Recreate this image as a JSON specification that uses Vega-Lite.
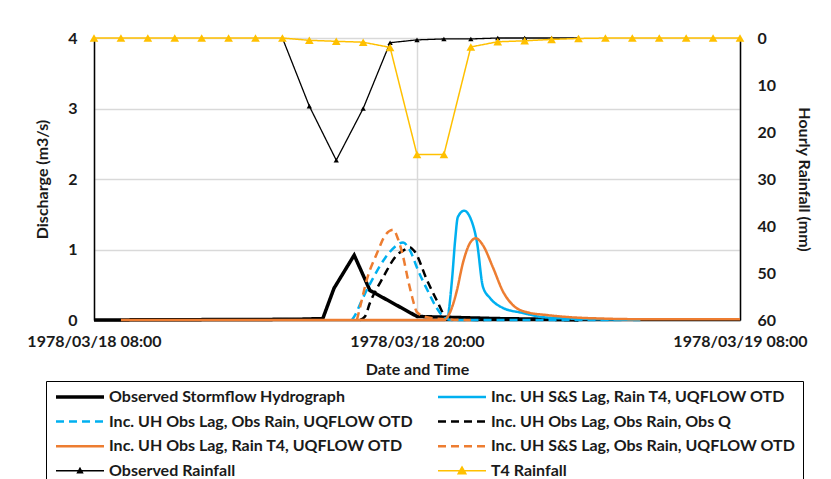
{
  "$schema": "https://vega.github.io/schema/vega-lite/v6.json",
  "width": 646,
  "height": 282,
  "autosize": "none",
  "padding": {"left": 94, "top": 38, "right": 91, "bottom": 159},
  "background": "white",
  "datasets": {
    "obs": [
      {"s": "Observed Stormflow Hydrograph", "t": "1978-03-18T08:00", "v": 0},
      {"s": "Observed Stormflow Hydrograph", "t": "1978-03-18T15:30", "v": 0.01},
      {"s": "Observed Stormflow Hydrograph", "t": "1978-03-18T16:30", "v": 0.02},
      {"s": "Observed Stormflow Hydrograph", "t": "1978-03-18T16:55", "v": 0.45},
      {"s": "Observed Stormflow Hydrograph", "t": "1978-03-18T17:40", "v": 0.92},
      {"s": "Observed Stormflow Hydrograph", "t": "1978-03-18T18:15", "v": 0.42},
      {"s": "Observed Stormflow Hydrograph", "t": "1978-03-18T20:00", "v": 0.05},
      {"s": "Observed Stormflow Hydrograph", "t": "1978-03-18T21:00", "v": 0.04},
      {"s": "Observed Stormflow Hydrograph", "t": "1978-03-18T22:00", "v": 0.03},
      {"s": "Observed Stormflow Hydrograph", "t": "1978-03-18T23:00", "v": 0.02},
      {"s": "Observed Stormflow Hydrograph", "t": "1978-03-19T00:00", "v": 0.015},
      {"s": "Observed Stormflow Hydrograph", "t": "1978-03-19T01:00", "v": 0.01},
      {"s": "Observed Stormflow Hydrograph", "t": "1978-03-19T02:00", "v": 0}
    ],
    "sim": [
      {"s": "Inc. UH Obs Lag, Obs Rain, Obs Q", "t": "1978-03-18T17:53", "v": 0},
      {"s": "Inc. UH Obs Lag, Obs Rain, Obs Q", "t": "1978-03-18T18:04", "v": 0.05},
      {"s": "Inc. UH Obs Lag, Obs Rain, Obs Q", "t": "1978-03-18T18:15", "v": 0.24},
      {"s": "Inc. UH Obs Lag, Obs Rain, Obs Q", "t": "1978-03-18T18:44", "v": 0.6},
      {"s": "Inc. UH Obs Lag, Obs Rain, Obs Q", "t": "1978-03-18T19:15", "v": 0.92},
      {"s": "Inc. UH Obs Lag, Obs Rain, Obs Q", "t": "1978-03-18T19:33", "v": 1.0},
      {"s": "Inc. UH Obs Lag, Obs Rain, Obs Q", "t": "1978-03-18T19:44", "v": 1.03},
      {"s": "Inc. UH Obs Lag, Obs Rain, Obs Q", "t": "1978-03-18T19:55", "v": 0.97},
      {"s": "Inc. UH Obs Lag, Obs Rain, Obs Q", "t": "1978-03-18T20:22", "v": 0.57},
      {"s": "Inc. UH Obs Lag, Obs Rain, Obs Q", "t": "1978-03-18T20:44", "v": 0.28},
      {"s": "Inc. UH Obs Lag, Obs Rain, Obs Q", "t": "1978-03-18T21:07", "v": 0.03},
      {"s": "Inc. UH Obs Lag, Obs Rain, Obs Q", "t": "1978-03-18T21:36", "v": 0.01},
      {"s": "Inc. UH Obs Lag, Obs Rain, Obs Q", "t": "1978-03-18T22:30", "v": 0},
      {"s": "Inc. UH Obs Lag, Obs Rain, UQFLOW OTD", "t": "1978-03-18T17:35", "v": 0},
      {"s": "Inc. UH Obs Lag, Obs Rain, UQFLOW OTD", "t": "1978-03-18T17:42", "v": 0.07},
      {"s": "Inc. UH Obs Lag, Obs Rain, UQFLOW OTD", "t": "1978-03-18T17:57", "v": 0.28},
      {"s": "Inc. UH Obs Lag, Obs Rain, UQFLOW OTD", "t": "1978-03-18T18:20", "v": 0.57},
      {"s": "Inc. UH Obs Lag, Obs Rain, UQFLOW OTD", "t": "1978-03-18T18:49", "v": 0.88},
      {"s": "Inc. UH Obs Lag, Obs Rain, UQFLOW OTD", "t": "1978-03-18T19:11", "v": 1.04},
      {"s": "Inc. UH Obs Lag, Obs Rain, UQFLOW OTD", "t": "1978-03-18T19:29", "v": 1.1},
      {"s": "Inc. UH Obs Lag, Obs Rain, UQFLOW OTD", "t": "1978-03-18T19:44", "v": 0.99},
      {"s": "Inc. UH Obs Lag, Obs Rain, UQFLOW OTD", "t": "1978-03-18T20:02", "v": 0.71},
      {"s": "Inc. UH Obs Lag, Obs Rain, UQFLOW OTD", "t": "1978-03-18T20:25", "v": 0.4},
      {"s": "Inc. UH Obs Lag, Obs Rain, UQFLOW OTD", "t": "1978-03-18T20:44", "v": 0.17},
      {"s": "Inc. UH Obs Lag, Obs Rain, UQFLOW OTD", "t": "1978-03-18T21:02", "v": 0.03},
      {"s": "Inc. UH Obs Lag, Obs Rain, UQFLOW OTD", "t": "1978-03-18T21:18", "v": 0},
      {"s": "Inc. UH Obs Lag, Obs Rain, UQFLOW OTD", "t": "1978-03-19T03:36", "v": 0},
      {"s": "Inc. UH S&S Lag, Obs Rain, UQFLOW OTD", "t": "1978-03-18T17:46", "v": 0},
      {"s": "Inc. UH S&S Lag, Obs Rain, UQFLOW OTD", "t": "1978-03-18T17:53", "v": 0.18},
      {"s": "Inc. UH S&S Lag, Obs Rain, UQFLOW OTD", "t": "1978-03-18T18:08", "v": 0.57},
      {"s": "Inc. UH S&S Lag, Obs Rain, UQFLOW OTD", "t": "1978-03-18T18:31", "v": 0.95},
      {"s": "Inc. UH S&S Lag, Obs Rain, UQFLOW OTD", "t": "1978-03-18T18:49", "v": 1.2},
      {"s": "Inc. UH S&S Lag, Obs Rain, UQFLOW OTD", "t": "1978-03-18T19:07", "v": 1.28},
      {"s": "Inc. UH S&S Lag, Obs Rain, UQFLOW OTD", "t": "1978-03-18T19:17", "v": 1.16},
      {"s": "Inc. UH S&S Lag, Obs Rain, UQFLOW OTD", "t": "1978-03-18T19:29", "v": 0.9},
      {"s": "Inc. UH S&S Lag, Obs Rain, UQFLOW OTD", "t": "1978-03-18T19:40", "v": 0.57},
      {"s": "Inc. UH S&S Lag, Obs Rain, UQFLOW OTD", "t": "1978-03-18T19:49", "v": 0.33},
      {"s": "Inc. UH S&S Lag, Obs Rain, UQFLOW OTD", "t": "1978-03-18T20:00", "v": 0.11},
      {"s": "Inc. UH S&S Lag, Obs Rain, UQFLOW OTD", "t": "1978-03-18T20:22", "v": 0.04},
      {"s": "Inc. UH S&S Lag, Obs Rain, UQFLOW OTD", "t": "1978-03-18T21:07", "v": 0.01},
      {"s": "Inc. UH S&S Lag, Obs Rain, UQFLOW OTD", "t": "1978-03-18T22:00", "v": 0},
      {"s": "Inc. UH S&S Lag, Rain T4, UQFLOW OTD", "t": "1978-03-18T21:00", "v": 0.02},
      {"s": "Inc. UH S&S Lag, Rain T4, UQFLOW OTD", "t": "1978-03-18T21:07", "v": 0.03},
      {"s": "Inc. UH S&S Lag, Rain T4, UQFLOW OTD", "t": "1978-03-18T21:18", "v": 0.57},
      {"s": "Inc. UH S&S Lag, Rain T4, UQFLOW OTD", "t": "1978-03-18T21:25", "v": 1.13},
      {"s": "Inc. UH S&S Lag, Rain T4, UQFLOW OTD", "t": "1978-03-18T21:31", "v": 1.46},
      {"s": "Inc. UH S&S Lag, Rain T4, UQFLOW OTD", "t": "1978-03-18T21:45", "v": 1.55},
      {"s": "Inc. UH S&S Lag, Rain T4, UQFLOW OTD", "t": "1978-03-18T21:58", "v": 1.46},
      {"s": "Inc. UH S&S Lag, Rain T4, UQFLOW OTD", "t": "1978-03-18T22:14", "v": 1.09},
      {"s": "Inc. UH S&S Lag, Rain T4, UQFLOW OTD", "t": "1978-03-18T22:27", "v": 0.47},
      {"s": "Inc. UH S&S Lag, Rain T4, UQFLOW OTD", "t": "1978-03-18T22:43", "v": 0.31},
      {"s": "Inc. UH S&S Lag, Rain T4, UQFLOW OTD", "t": "1978-03-18T23:12", "v": 0.17},
      {"s": "Inc. UH S&S Lag, Rain T4, UQFLOW OTD", "t": "1978-03-18T23:56", "v": 0.1},
      {"s": "Inc. UH S&S Lag, Rain T4, UQFLOW OTD", "t": "1978-03-19T00:41", "v": 0.04},
      {"s": "Inc. UH S&S Lag, Rain T4, UQFLOW OTD", "t": "1978-03-19T01:41", "v": 0.02},
      {"s": "Inc. UH S&S Lag, Rain T4, UQFLOW OTD", "t": "1978-03-19T02:55", "v": 0.01},
      {"s": "Inc. UH S&S Lag, Rain T4, UQFLOW OTD", "t": "1978-03-19T04:18", "v": 0},
      {"s": "Inc. UH Obs Lag, Rain T4, UQFLOW OTD", "t": "1978-03-18T09:00", "v": 0},
      {"s": "Inc. UH Obs Lag, Rain T4, UQFLOW OTD", "t": "1978-03-18T21:00", "v": 0},
      {"s": "Inc. UH Obs Lag, Rain T4, UQFLOW OTD", "t": "1978-03-18T21:13", "v": 0.1},
      {"s": "Inc. UH Obs Lag, Rain T4, UQFLOW OTD", "t": "1978-03-18T21:29", "v": 0.42},
      {"s": "Inc. UH Obs Lag, Rain T4, UQFLOW OTD", "t": "1978-03-18T21:42", "v": 0.8},
      {"s": "Inc. UH Obs Lag, Rain T4, UQFLOW OTD", "t": "1978-03-18T21:58", "v": 1.09},
      {"s": "Inc. UH Obs Lag, Rain T4, UQFLOW OTD", "t": "1978-03-18T22:11", "v": 1.16},
      {"s": "Inc. UH Obs Lag, Rain T4, UQFLOW OTD", "t": "1978-03-18T22:27", "v": 1.06},
      {"s": "Inc. UH Obs Lag, Rain T4, UQFLOW OTD", "t": "1978-03-18T22:49", "v": 0.75},
      {"s": "Inc. UH Obs Lag, Rain T4, UQFLOW OTD", "t": "1978-03-18T23:12", "v": 0.4},
      {"s": "Inc. UH Obs Lag, Rain T4, UQFLOW OTD", "t": "1978-03-18T23:34", "v": 0.21},
      {"s": "Inc. UH Obs Lag, Rain T4, UQFLOW OTD", "t": "1978-03-19T00:05", "v": 0.11},
      {"s": "Inc. UH Obs Lag, Rain T4, UQFLOW OTD", "t": "1978-03-19T00:50", "v": 0.07},
      {"s": "Inc. UH Obs Lag, Rain T4, UQFLOW OTD", "t": "1978-03-19T01:41", "v": 0.04},
      {"s": "Inc. UH Obs Lag, Rain T4, UQFLOW OTD", "t": "1978-03-19T02:55", "v": 0.02},
      {"s": "Inc. UH Obs Lag, Rain T4, UQFLOW OTD", "t": "1978-03-19T04:39", "v": 0.01},
      {"s": "Inc. UH Obs Lag, Rain T4, UQFLOW OTD", "t": "1978-03-19T08:00", "v": 0.01}
    ],
    "rainObs": [
      {"s": "Observed Rainfall", "t": "1978-03-18T15:00", "v": 0},
      {"s": "Observed Rainfall", "t": "1978-03-18T16:00", "v": 14.5},
      {"s": "Observed Rainfall", "t": "1978-03-18T17:00", "v": 26},
      {"s": "Observed Rainfall", "t": "1978-03-18T18:00", "v": 15},
      {"s": "Observed Rainfall", "t": "1978-03-18T19:00", "v": 1.0},
      {"s": "Observed Rainfall", "t": "1978-03-18T20:00", "v": 0.4},
      {"s": "Observed Rainfall", "t": "1978-03-18T21:00", "v": 0.2},
      {"s": "Observed Rainfall", "t": "1978-03-18T22:00", "v": 0.2},
      {"s": "Observed Rainfall", "t": "1978-03-18T23:00", "v": 0},
      {"s": "Observed Rainfall", "t": "1978-03-19T00:00", "v": 0},
      {"s": "Observed Rainfall", "t": "1978-03-19T01:00", "v": 0},
      {"s": "Observed Rainfall", "t": "1978-03-19T02:00", "v": 0}
    ],
    "rainT4": [
      {"s": "T4 Rainfall", "t": "1978-03-18T08:00", "v": 0},
      {"s": "T4 Rainfall", "t": "1978-03-18T09:00", "v": 0},
      {"s": "T4 Rainfall", "t": "1978-03-18T10:00", "v": 0},
      {"s": "T4 Rainfall", "t": "1978-03-18T11:00", "v": 0},
      {"s": "T4 Rainfall", "t": "1978-03-18T12:00", "v": 0},
      {"s": "T4 Rainfall", "t": "1978-03-18T13:00", "v": 0},
      {"s": "T4 Rainfall", "t": "1978-03-18T14:00", "v": 0},
      {"s": "T4 Rainfall", "t": "1978-03-18T15:00", "v": 0},
      {"s": "T4 Rainfall", "t": "1978-03-18T16:00", "v": 0.5},
      {"s": "T4 Rainfall", "t": "1978-03-18T17:00", "v": 0.7},
      {"s": "T4 Rainfall", "t": "1978-03-18T18:00", "v": 0.9},
      {"s": "T4 Rainfall", "t": "1978-03-18T19:00", "v": 2.0},
      {"s": "T4 Rainfall", "t": "1978-03-18T20:00", "v": 24.8},
      {"s": "T4 Rainfall", "t": "1978-03-18T21:00", "v": 24.8},
      {"s": "T4 Rainfall", "t": "1978-03-18T22:00", "v": 1.9},
      {"s": "T4 Rainfall", "t": "1978-03-18T23:00", "v": 0.8},
      {"s": "T4 Rainfall", "t": "1978-03-19T00:00", "v": 0.6},
      {"s": "T4 Rainfall", "t": "1978-03-19T01:00", "v": 0.3},
      {"s": "T4 Rainfall", "t": "1978-03-19T02:00", "v": 0.1},
      {"s": "T4 Rainfall", "t": "1978-03-19T03:00", "v": 0},
      {"s": "T4 Rainfall", "t": "1978-03-19T04:00", "v": 0},
      {"s": "T4 Rainfall", "t": "1978-03-19T05:00", "v": 0},
      {"s": "T4 Rainfall", "t": "1978-03-19T06:00", "v": 0},
      {"s": "T4 Rainfall", "t": "1978-03-19T07:00", "v": 0},
      {"s": "T4 Rainfall", "t": "1978-03-19T08:00", "v": 0}
    ]
  },
  "encoding": {
    "x": {
      "field": "t", "type": "temporal",
      "scale": {"domain": [{"year": 1978, "month": 3, "date": 18, "hours": 8}, {"year": 1978, "month": 3, "date": 19, "hours": 8}]},
      "axis": {
        "title": "Date and Time",
        "values": [{"year": 1978, "month": 3, "date": 18, "hours": 8}, {"year": 1978, "month": 3, "date": 18, "hours": 20}, {"year": 1978, "month": 3, "date": 19, "hours": 8}],
        "format": "%Y/%m/%d %H:%M",
        "labelOverlap": false, "labelFlush": false, "labelBound": false,
        "labelPadding": 13, "titlePadding": 12,
        "grid": true, "gridColor": "#d9d9d9", "gridWidth": 1.5,
        "domainColor": "#000000", "domainWidth": 1.5
      }
    },
    "color": {
      "field": "s", "type": "nominal",
      "scale": {
        "domain": ["Observed Stormflow Hydrograph", "Inc. UH Obs Lag, Obs Rain, UQFLOW OTD", "Inc. UH Obs Lag, Rain T4, UQFLOW OTD", "Observed Rainfall", "Inc. UH S&S Lag, Rain T4, UQFLOW OTD", "Inc. UH Obs Lag, Obs Rain, Obs Q", "Inc. UH S&S Lag, Obs Rain, UQFLOW OTD", "T4 Rainfall"],
        "range": ["#000000", "#00b0f0", "#ed7d31", "#000000", "#00b0f0", "#000000", "#ed7d31", "#ffc000"]
      },
      "legend": {
        "title": null,
        "orient": "none", "legendX": -48, "legendY": 343,
        "columns": 2, "columnPadding": 20, "rowPadding": 8.6,
        "symbolType": "stroke", "symbolSize": 2304, "symbolStrokeWidth": 2.5,
        "symbolOffset": 18,
        "labelOffset": 21, "labelLimit": 400,
        "strokeColor": "#000000", "padding": 8,
        "encode": {
          "symbols": {
            "update": {
              "shape": {"signal": "datum.value == 'T4 Rainfall' ? 'M-1,0H1M-0.16,0.12L0,-0.16L0.16,0.12Z' : datum.value == 'Observed Rainfall' ? 'M-1,0H1M-0.1,0.08L0,-0.1L0.1,0.08Z' : 'stroke'"},
              "fill": {"signal": "datum.value == 'T4 Rainfall' ? '#ffc000' : datum.value == 'Observed Rainfall' ? '#000000' : 'transparent'"},
              "strokeWidth": {"signal": "datum.value == 'Observed Stormflow Hydrograph' ? 3.5 : (datum.value == 'T4 Rainfall' || datum.value == 'Observed Rainfall') ? 1.5 : 2.5"}
            }
          }
        }
      }
    },
    "strokeDash": {
      "field": "s", "type": "nominal",
      "scale": {
        "domain": ["Observed Stormflow Hydrograph", "Inc. UH Obs Lag, Obs Rain, UQFLOW OTD", "Inc. UH Obs Lag, Rain T4, UQFLOW OTD", "Observed Rainfall", "Inc. UH S&S Lag, Rain T4, UQFLOW OTD", "Inc. UH Obs Lag, Obs Rain, Obs Q", "Inc. UH S&S Lag, Obs Rain, UQFLOW OTD", "T4 Rainfall"],
        "range": [[1, 0], [8, 5], [1, 0], [1, 0], [1, 0], [8, 5], [8, 5], [1, 0]]
      },
      "legend": {"title": null}
    }
  },
  "layer": [
    {
      "encoding": {
        "y": {
          "field": "v", "type": "quantitative",
          "scale": {"domain": [0, 4]},
          "axis": {
            "title": "Discharge (m3/s)", "orient": "left",
            "values": [0, 1, 2, 3, 4],
            "grid": true, "gridColor": "#d9d9d9", "gridWidth": 1.5,
            "domainColor": "#000000", "domainWidth": 1.5,
            "labelPadding": 17, "titlePadding": 17
          }
        }
      },
      "layer": [
        {
          "data": {"name": "obs"},
          "mark": {"type": "line", "strokeWidth": 3.5}
        },
        {
          "data": {"name": "sim"},
          "mark": {"type": "line", "strokeWidth": 2.5, "interpolate": "monotone"}
        }
      ]
    },
    {
      "encoding": {
        "y": {
          "field": "v", "type": "quantitative",
          "scale": {"domain": [0, 60], "reverse": true},
          "axis": {
            "title": "Hourly Rainfall (mm)", "orient": "right",
            "values": [0, 10, 20, 30, 40, 50, 60],
            "grid": false,
            "domainColor": "#000000", "domainWidth": 1.5,
            "labelPadding": 17, "titlePadding": 20
          }
        }
      },
      "layer": [
        {
          "data": {"name": "rainObs"},
          "mark": {"type": "line", "strokeWidth": 1.3, "point": {"filled": true, "shape": "triangle-up", "size": 28, "color": "#000000"}}
        },
        {
          "data": {"name": "rainT4"},
          "mark": {"type": "line", "strokeWidth": 1.5, "point": {"filled": true, "shape": "triangle-up", "size": 75, "color": "#ffc000"}}
        }
      ]
    }
  ],
  "resolve": {"scale": {"y": "independent"}},
  "config": {
    "view": {"stroke": null},
    "font": "Lato",
    "axis": {
      "labelFont": "Lato", "labelFontWeight": "bold", "labelFontSize": 16, "labelColor": "#1a1a1a",
      "titleFont": "Lato", "titleFontWeight": "bold", "titleFontSize": 16, "titleColor": "#1a1a1a",
      "ticks": false
    },
    "legend": {
      "labelFont": "Lato", "labelFontWeight": "bold", "labelFontSize": 16, "labelColor": "#1a1a1a"
    }
  }
}
